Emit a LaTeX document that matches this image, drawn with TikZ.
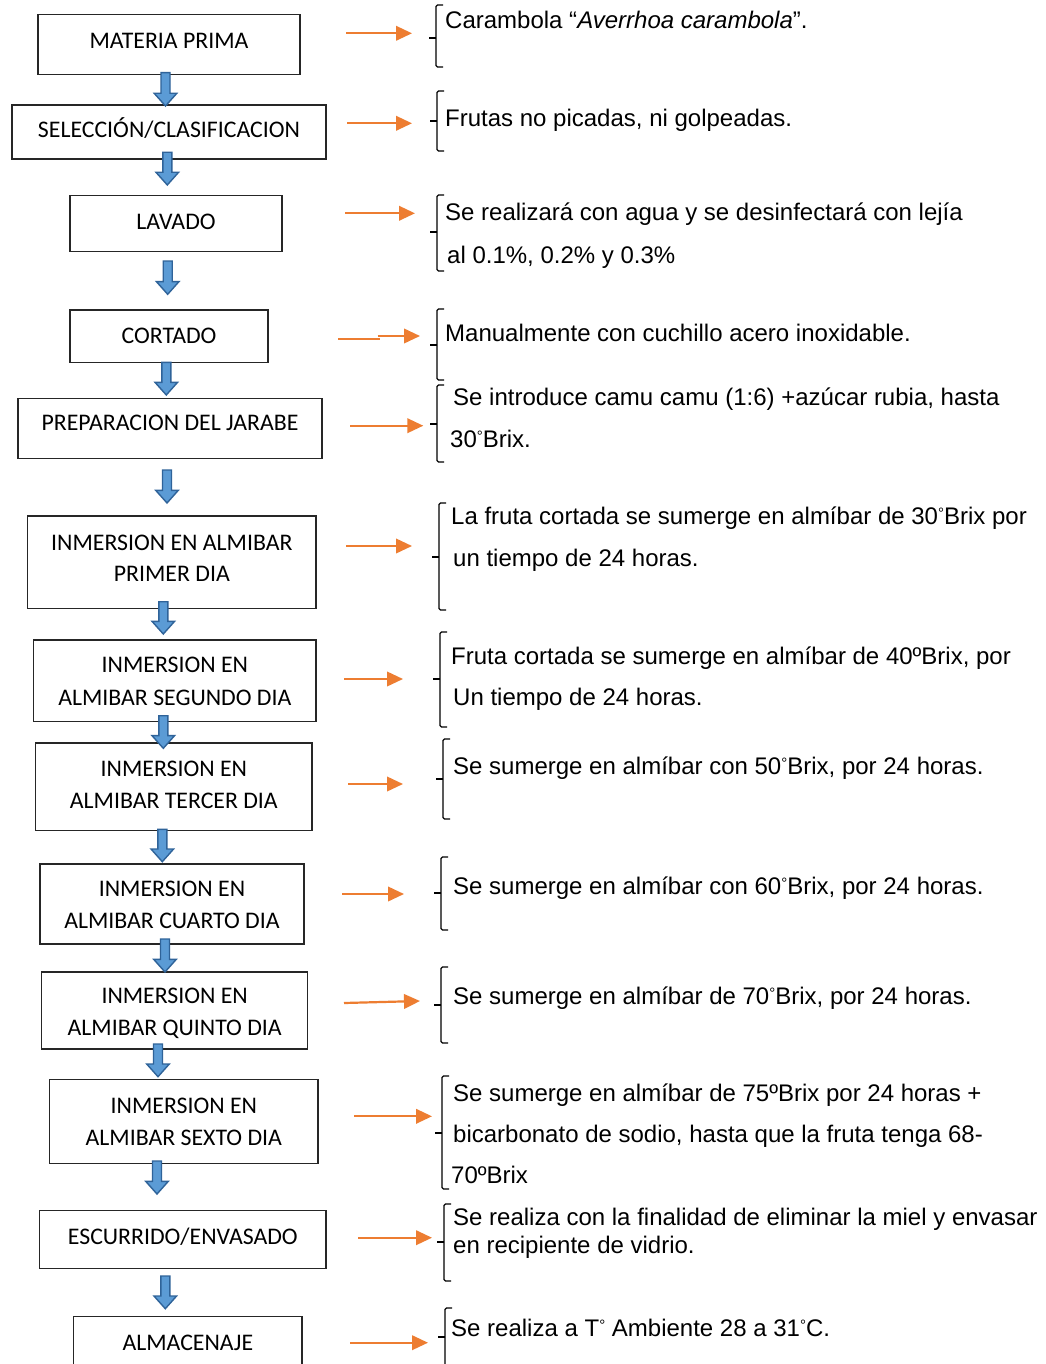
\documentclass[tikz,border=0pt]{standalone}
\usepackage{fontspec}
\setmainfont{Liberation Sans}
\newfontfamily\boxfont{Carlito}
\usetikzlibrary{arrows.meta}
\definecolor{orng}{HTML}{ED7D31}
\definecolor{bfill}{HTML}{5B9BD5}
\definecolor{bdraw}{HTML}{2F6399}
\newcommand\dg{\raisebox{6pt}{\fontsize{15}{15}\selectfont °}}
\newcommand\bluearr[3]{\path[barrow] ({#1-4.5},{#2}) -- ({#1+4.5},{#2}) -- ({#1+4.5},{#3-12.7}) -- ({#1+11.3},{#3-12.7}) -- ({#1},{#3}) -- ({#1-11.3},{#3-12.7}) -- ({#1-4.5},{#3-12.7}) -- cycle;}
\newcommand\sidebrk[4]{\draw[brk] ({#1+7},{#2}) -- ({#1},{#2}) -- ({#1},{#3}) -- ({#1+7},{#3}); \draw[brk] ({#1},{#4}) -- ({#1-7},{#4});}
\begin{document}
\begin{tikzpicture}[x=1pt,y=-1pt,
  box/.style={draw=black!85, line width=1.2pt, inner sep=0pt, outer sep=0pt},
  btxt/.style={font=\boxfont\fontsize{23.8}{28}\selectfont, inner sep=0pt, anchor=base},
  rtxt/.style={font=\fontsize{24}{28}\selectfont, inner sep=0pt, anchor=base west},
  oarr/.style={draw=orng, line width=2.2pt, -{Triangle[length=16pt,width=14.5pt]}},
  brk/.style={draw=black, line width=1.1pt, rounded corners=1.5pt},
  barrow/.style={fill=bfill, draw=bdraw, line width=1.4pt, line join=miter}]
\useasboundingbox (0,0) rectangle (1045,1364);
\fill[white] (0,0) rectangle (1045,1364);
\clip (0,0) rectangle (1045,1364);

% boxes
\node[box, minimum width=262pt, minimum height=59.8pt] (b1) at (169,44.4) {};
\node[box, minimum width=314pt, minimum height=54pt] (b2) at (169,132) {};
\node[box, minimum width=212pt, minimum height=56pt] (b3) at (176,223.7) {};
\node[box, minimum width=198pt, minimum height=52.3pt] (b4) at (169,336.15) {};
\node[box, minimum width=304pt, minimum height=60pt] (b5) at (170,428.3) {};
\node[box, minimum width=288.3pt, minimum height=92.3pt] (b6) at (171.85,562.15) {};
\node[box, minimum width=282.3pt, minimum height=81.7pt] (b7) at (174.85,680.85) {};
\node[box, minimum width=276.3pt, minimum height=87.7pt] (b8) at (173.85,786.85) {};
\node[box, minimum width=264pt, minimum height=80pt] (b9) at (172,904) {};
\node[box, minimum width=266pt, minimum height=77pt] (b10) at (174.7,1010.5) {};
\node[box, minimum width=268.3pt, minimum height=84pt] (b11) at (183.85,1121.7) {};
\node[box, minimum width=286.3pt, minimum height=58pt] (b12) at (182.85,1239.7) {};
\node[box, minimum width=228.3pt, minimum height=68.3pt] (b13) at (187.85,1350.85) {};

% box texts
\node[btxt] (t1) at (169,48.3) {MATERIA PRIMA};
\node[btxt] (t2) at (169,137.7) {SELECCIÓN/CLASIFICACION};
\node[btxt] (t3) at (176,229.3) {LAVADO};
\node[btxt] (t4) at (169,343.3) {CORTADO};
\node[btxt] (t5) at (170,430.7) {PREPARACION DEL JARABE};
\node[btxt] (t6a) at (171.85,550) {INMERSION EN ALMIBAR};
\node[btxt] (t6b) at (171.85,581) {PRIMER DIA};
\node[btxt] (t7a) at (174.85,672.7) {INMERSION EN};
\node[btxt] (t7b) at (174.85,705) {ALMIBAR SEGUNDO DIA};
\node[btxt] (t8a) at (173.85,776.7) {INMERSION EN};
\node[btxt] (t8b) at (173.85,808.3) {ALMIBAR TERCER DIA};
\node[btxt] (t9a) at (172,896.5) {INMERSION EN};
\node[btxt] (t9b) at (172,928.5) {ALMIBAR CUARTO DIA};
\node[btxt] (t10a) at (174.7,1003.5) {INMERSION EN};
\node[btxt] (t10b) at (174.7,1035.5) {ALMIBAR QUINTO DIA};
\node[btxt] (t11a) at (183.85,1113) {INMERSION EN};
\node[btxt] (t11b) at (183.85,1145) {ALMIBAR SEXTO DIA};
\node[btxt] (t12) at (182.85,1244) {ESCURRIDO/ENVASADO};
\node[btxt] (t13) at (187.85,1350) {ALMACENAJE};

% blue block arrows
\bluearr{165.5}{72.7}{106}
\bluearr{167.3}{152.3}{185}
\bluearr{167.7}{261}{294.3}
\bluearr{166.3}{362.3}{395}
\bluearr{167}{470}{503}
\bluearr{163.3}{601.7}{634}
\bluearr{163.3}{715.7}{748.3}
\bluearr{162.3}{829.3}{861.7}
\bluearr{165}{939}{972}
\bluearr{158}{1044}{1076.7}
\bluearr{157}{1161}{1194}
\bluearr{165.3}{1276}{1308.7}

% orange arrows
\draw[oarr] (346,33.3) -- (412,33.3);
\draw[oarr] (347,123.3) -- (412,123.3);
\draw[oarr] (345,213.3) -- (415,213.3);
\draw[draw=orng, line width=2.2pt] (338,339) -- (380,339);
\draw[oarr] (377.7,336) -- (420,336);
\draw[oarr] (350,425.7) -- (423.3,425.7);
\draw[oarr] (346,546) -- (412,546);
\draw[oarr] (344,679) -- (403,679);
\draw[oarr] (348,784) -- (403,784);
\draw[oarr] (342,894) -- (404,894);
\draw[oarr] (344,1003) -- (420,1001);
\draw[oarr] (354,1116.3) -- (432,1116.3);
\draw[oarr] (358,1237.7) -- (432,1237.7);
\draw[oarr] (350,1342.7) -- (428,1342.7);

% brackets
\sidebrk{436}{5}{67}{38}
\sidebrk{437}{91}{151}{121}
\sidebrk{437}{195}{271}{232}
\sidebrk{437}{309}{380}{345}
\sidebrk{437}{385}{462}{424}
\sidebrk{439}{503}{610}{557}
\sidebrk{440}{632}{727}{679}
\sidebrk{443}{739}{819}{779}
\sidebrk{441}{857}{930}{893}
\sidebrk{441}{967}{1043}{1005}
\sidebrk{442}{1076}{1189}{1133}
\sidebrk{444}{1204}{1281}{1242}
\sidebrk{445}{1308}{1380}{1337}

% right texts
\node[rtxt] (r1) at (445,29) {Carambola “\textit{Averrhoa carambola}”.};
\node[rtxt] (r2) at (445,127) {Frutas no picadas, ni golpeadas.};
\node[rtxt] (r3a) at (445,221) {Se realizará con agua y se desinfectará con lejía};
\node[rtxt] (r3b) at (447,263) {al 0.1\%, 0.2\% y 0.3\%};
\node[rtxt] (r4) at (445,341.7) {Manualmente con cuchillo acero inoxidable.};
\node[rtxt] (r5a) at (453,405) {Se introduce camu camu (1:6) +azúcar rubia, hasta};
\node[rtxt] (r5b) at (450,447) {30\dg Brix.};
\node[rtxt] (r6a) at (451,524) {La fruta cortada se sumerge en almíbar de 30\dg Brix por};
\node[rtxt] (r6b) at (453,566) {un tiempo de 24 horas.};
\node[rtxt] (r7a) at (451,664) {Fruta cortada se sumerge en almíbar de 40ºBrix, por};
\node[rtxt] (r7b) at (453,705) {Un tiempo de 24 horas.};
\node[rtxt] (r8) at (453,774.5) {Se sumerge en almíbar con 50\dg Brix, por 24 horas.};
\node[rtxt] (r9) at (453,894.5) {Se sumerge en almíbar con 60\dg Brix, por 24 horas.};
\node[rtxt] (r10) at (453,1004.5) {Se sumerge en almíbar de 70\dg Brix, por 24 horas.};
\node[rtxt] (r11a) at (453,1101) {Se sumerge en almíbar de 75ºBrix por 24 horas +};
\node[rtxt] (r11b) at (453,1142) {bicarbonato de sodio, hasta que la fruta tenga 68-};
\node[rtxt] (r11c) at (451,1183) {70ºBrix};
\node[rtxt] (r12a) at (453,1225) {Se realiza con la finalidad de eliminar la miel y envasar};
\node[rtxt] (r12b) at (453,1253) {en recipiente de vidrio.};
\node[rtxt] (r13) at (451,1336) {Se realiza a T\dg{} Ambiente 28 a 31\dg C.};
\end{tikzpicture}
\end{document}
